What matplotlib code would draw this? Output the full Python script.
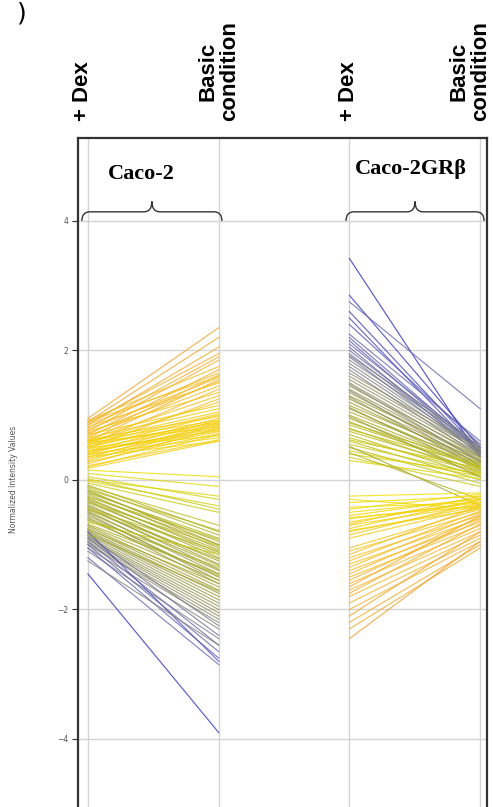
import numpy as np
import matplotlib
matplotlib.use('Agg')
import matplotlib.pyplot as plt
from matplotlib.colors import LinearSegmentedColormap, Normalize
from matplotlib.path import Path
from matplotlib.patches import PathPatch
import matplotlib.transforms as mtransforms

# condition labels across the top
conditions = ['+ Dex', 'Basic\ncondition', '+ Dex', 'Basic\ncondition']
groups = ['Caco-2', 'Caco-2GR\u03b2']

# Caco-2 : value at +Dex, value at Basic condition
caco2_dex = [0.95, 0.90, 0.85, 0.88, 0.80, 0.75, 0.92, 0.70, 0.85, 0.65, 0.78, 0.60, 0.72, 0.82, 0.68, 0.55, 0.75, 0.62, 0.50, 0.90, 0.58,
             0.70, 0.65, 0.60, 0.55, 0.50, 0.62, 0.45, 0.40, 0.52, 0.35, 0.48, 0.30, 0.42, 0.58, 0.25, 0.38, 0.45, 0.33, 0.28, 0.20, 0.50, 0.40, 0.22, 0.36, 0.55, 0.60, 0.44,
             0.15, 0.10, 0.05, 0.02, -0.02, 0.00, -0.05, 0.18,
             -0.10, -0.15, -0.12, -0.20, -0.18, -0.25, -0.22, -0.30, -0.28, -0.35, -0.32, -0.40, -0.38, -0.45, -0.42, -0.50, -0.48, -0.55, -0.52, -0.58, -0.08, -0.26, -0.34, -0.44, -0.16, -0.46, -0.60, -0.62,
             -0.65, -0.70, -0.72, -0.75, -0.78, -0.80, -0.82, -0.85, -0.88, -0.90, -0.92, -0.95, -0.98, -1.00, -0.86, -1.05, -0.90, -1.10, -0.95, -1.00, -1.05, -0.80, -0.76, -0.84, -0.68,
             -1.20, -1.25, -1.45]
caco2_basic = [2.35, 2.20, 2.05, 1.95, 1.90, 1.85, 1.75, 1.70, 1.65, 1.62, 1.58, 1.55, 1.52, 1.50, 1.45, 1.40, 1.35, 1.30, 1.25, 1.60, 1.20,
               1.15, 1.10, 1.05, 1.02, 1.00, 0.98, 0.95, 0.92, 0.90, 0.88, 0.86, 0.85, 0.83, 0.82, 0.80, 0.78, 0.76, 0.75, 0.72, 0.70, 0.68, 0.65, 0.62, 0.60, 0.88, 0.92, 0.80,
               0.05, -0.10, -0.30, -0.45, -0.40, -0.25, -0.50, 0.60,
               -0.70, -0.78, -0.85, -0.90, -0.95, -1.00, -1.05, -1.08, -1.12, -1.15, -1.20, -1.25, -1.30, -1.32, -1.38, -1.40, -1.45, -1.50, -1.55, -1.60, -0.80, -0.92, -1.02, -1.10, -1.00, -1.22, -1.35, -1.48,
               -1.15, -1.55, -1.65, -1.70, -1.75, -1.80, -1.85, -1.90, -1.95, -2.00, -2.05, -2.10, -2.15, -2.20, -2.25, -2.30, -2.40, -2.45, -2.55, -2.65, -2.75, -2.80, -1.60, -1.72, -1.45,
               -2.85, -2.55, -3.90]

# Caco-2GRb : value at +Dex, value at Basic condition
grb_dex = [3.42, 2.85, 2.75, 2.60, 2.50, 2.40, 2.20, 2.15, 2.10, 2.05, 2.00, 1.95, 1.90, 1.85, 1.80, 1.75, 1.70, 1.65, 1.60, 1.55, 1.50, 2.25, 1.92,
           1.45, 1.40, 1.35, 1.30, 1.25, 1.20, 1.15, 1.10, 1.05, 1.00, 1.38, 1.28, 1.12, 1.48,
           0.95, 0.90, 0.85, 0.80, 0.75, 0.70, 0.65, 0.60, 0.55, 0.50, 0.45, 0.40, 0.35, 0.30, 0.88, 0.78, 0.62, 0.52, 0.42, 0.98,
           -0.25, -0.35, -0.45, -0.50, -0.55, -0.60, -0.65, -0.70, -0.75, -0.80, -0.85, -0.90, -0.58, -0.68, -0.78, -0.42, -0.30,
           -1.05, -1.10, -1.15, -1.20, -1.25, -1.30, -1.35, -1.40, -1.45, -1.50, -1.55, -1.60, -1.65, -1.70, -1.80, -1.90, -2.00, -2.10, -2.20, -2.30, -2.45, -1.75]
grb_basic = [0.35, 0.50, 1.10, 0.45, 0.40, 0.55, 0.45, 0.42, 0.50, 0.38, 0.48, 0.44, 0.40, 0.52, 0.46, 0.42, 0.36, 0.48, 0.44, 0.40, 0.35, 0.60, 0.55,
             0.38, 0.32, 0.30, 0.35, 0.28, 0.25, 0.30, 0.22, 0.26, 0.20, 0.22, 0.18, 0.15, 0.28,
             0.18, 0.12, 0.20, 0.10, 0.15, 0.05, 0.12, 0.00, 0.08, -0.05, 0.05, 0.10, -0.10, 0.02, 0.25, 0.22, 0.18, -0.40, -0.30, 0.05,
             -0.20, -0.25, -0.22, -0.30, -0.28, -0.35, -0.32, -0.38, -0.30, -0.40, -0.35, -0.42, -0.40, -0.25, -0.45, -0.35, -0.45,
             -0.45, -0.50, -0.40, -0.55, -0.48, -0.60, -0.52, -0.65, -0.58, -0.70, -0.62, -0.75, -0.55, -0.80, -0.85, -0.90, -0.95, -0.80, -1.00, -1.05, -0.95, -0.68]

# colour scale: change from Basic to +Dex
cmap = LinearSegmentedColormap.from_list('dexcol', [
    (0.00, '#f0a030'), (0.15, '#f5b830'), (0.28, '#f5cf10'), (0.38, '#f2e400'),
    (0.50, '#c8c818'), (0.60, '#a4a432'), (0.68, '#8c8c78'), (0.80, '#6464b4'), (1.00, '#3030c0')])
norm = Normalize(vmin=-1.5, vmax=2.5)

fig = plt.figure(figsize=(4.93, 8.07), dpi=100)
ax = fig.add_axes([0.158, 0.0, 0.830, 0.829])

for d, b in zip(caco2_dex, caco2_basic):
    ax.plot([0, 1], [d, b], color=cmap(norm(d - b)), lw=0.85, alpha=0.8, zorder=2)
for d, b in zip(grb_dex, grb_basic):
    ax.plot([2, 3], [d, b], color=cmap(norm(d - b)), lw=0.85, alpha=0.8, zorder=2)

ax.set_xlim(-0.0765, 3.053)
ax.set_ylim(-5.05, 5.28)
ax.set_xticks([0, 1, 2, 3])
ax.set_yticks([-4, -2, 0, 2, 4])
ax.grid(True, color='#d4d4d4', lw=1.0, zorder=0)
ax.tick_params(axis='x', length=0, labelbottom=False)
ax.tick_params(axis='y', length=4, width=0.8, pad=3, labelsize=5.5, labelcolor='#555555', color='#333333')
for s in ['left', 'top', 'right']:
    ax.spines[s].set_linewidth(1.6)
    ax.spines[s].set_color('#333333')
ax.spines['bottom'].set_visible(False)

ax.set_ylabel('Normalized Intensity Values', fontsize=5.5, color='#555555')
ax.yaxis.set_label_coords(-0.147, 0.489)

# condition labels above the frame
trans = mtransforms.blended_transform_factory(ax.transData, ax.transAxes)
xpos = [-0.045, 1.0, 1.99, 2.92]
for i, lab in enumerate(conditions):
    ax.text(xpos[i], 1.025, lab, transform=trans, rotation=90,
            ha='center', va='bottom', fontsize=16, fontweight='bold',
            family='Liberation Sans', linespacing=1.05, clip_on=False)

# group names and braces
for g, x0, x1, xt, yt in [(groups[0], -0.046, 1.025, 0.405, 4.72), (groups[1], 1.974, 3.03, 2.47, 4.8)]:
    ax.text(xt, yt, g, ha='center', va='center', fontsize=16, fontweight='bold', family='Liberation Serif', zorder=4)
    xm = (x0 + x1) / 2
    yb, yf, yp = 4.0, 4.14, 4.30
    r = 0.06
    verts = [(x0, yb), (x0, yf), (x0 + r, yf),
             (xm - r, yf), (xm, yf), (xm, yp),
             (xm, yf), (xm + r, yf),
             (x1 - r, yf), (x1, yf), (x1, yb)]
    codes = [Path.MOVETO, Path.CURVE3, Path.CURVE3,
             Path.LINETO, Path.CURVE3, Path.CURVE3,
             Path.CURVE3, Path.CURVE3,
             Path.LINETO, Path.CURVE3, Path.CURVE3]
    ax.add_patch(PathPatch(Path(verts, codes), fill=False, lw=1.0, ec='#333333', zorder=4))

fig.text(0.045, 0.998, ')', fontsize=18, ha='center', va='top')

plt.savefig('out.png', dpi=100)
